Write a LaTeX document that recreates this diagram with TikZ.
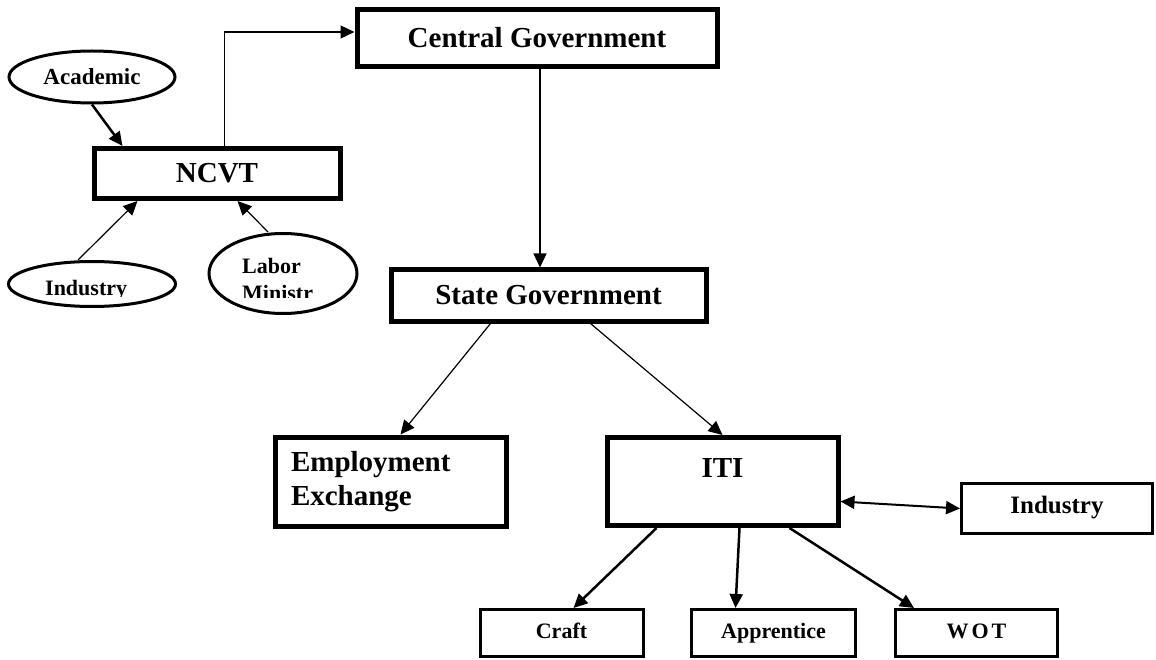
\documentclass[tikz,border=0pt]{standalone}
\usepackage{fontspec}
\setmainfont{Liberation Serif}
\usetikzlibrary{shapes.geometric,arrows.meta,positioning,calc}

\begin{document}
\begin{tikzpicture}[
    x=1pt, y=-1pt,
    >={Triangle[length=14pt,width=13pt]},
    bigbox/.style = {rectangle, draw, line width=5pt, font=\fontsize{29}{34}\selectfont\bfseries},
    smallbox/.style = {rectangle, draw, line width=3pt, minimum height=47pt, text height=15pt, text depth=5pt, font=\fontsize{22}{26}\selectfont\bfseries},
    oval/.style = {ellipse, draw, line width=3pt, inner sep=0pt},
    ovaltext/.style = {anchor=base west, inner sep=0pt, font=\fontsize{22}{26}\selectfont\bfseries},
    lightarrow/.style = {line width=1.2pt, ->},
    heavyarrow/.style = {line width=2.5pt, ->}
]
\useasboundingbox (0,0) rectangle (1156,660);

\node[bigbox, minimum width=360pt, minimum height=57pt] (central) at (537,38) {Central Government};
\node[bigbox, minimum width=246pt, minimum height=50pt] (ncvt) at (217,173.5) {NCVT};
\node[bigbox, minimum width=315pt, minimum height=51pt] (state) at (548.5,295.5) {State Government};
\node[bigbox, minimum width=231pt, minimum height=89pt, text width=199pt, align=left] (employ) at (390.5,481.5) {Employment\\Exchange};
\node[bigbox, minimum width=231pt, inner ysep=0pt, text height=39.5pt, text depth=48.5pt] (iti) at (722.5,481.5) {ITI};
\node[smallbox, minimum width=191pt, minimum height=50pt, font=\fontsize{25}{30}\selectfont\bfseries] (indbox) at (1057,508.5) {Industry};
\node[smallbox, minimum width=163pt] (craft) at (561.5,633) {Craft};
\node[smallbox, minimum width=164pt] (appr) at (773.5,633) {Apprentice};
\node[smallbox, minimum width=162pt] (wot) at (976.5,633) {W\kern3pt O\kern3pt T};

\node[oval, minimum width=166pt, minimum height=52pt, font=\fontsize{23}{27}\selectfont\bfseries] (academic) at (92,77) {Academic};
\node[oval, minimum width=167pt, minimum height=45pt] (industry) at (92,284) {};
\node[oval, minimum width=148pt, minimum height=80pt] (labor) at (283,273.5) {};
\begin{scope}
  \clip (0,200) rectangle (200,296);
  \node[ovaltext] (industrytext) at (45,295) {Industry};
\end{scope}
\begin{scope}
  \clip (200,200) rectangle (400,297.5);
  \node[ovaltext] (labortext) at (242,273) {Labor};
  \node[ovaltext] (ministrtext) at (242,300.5) {Ministr};
\end{scope}

\draw[heavyarrow] (academic.south) -- ([xshift=31pt]ncvt.north west);
\draw[lightarrow] ([xshift=-14pt]industry.north) -- ([xshift=46pt]ncvt.south west);
\draw[lightarrow] ([xshift=-15pt]labor.north) -- ([xshift=146pt]ncvt.south west);
\draw[lightarrow] ([xshift=133pt]ncvt.north west) |- ([yshift=6pt]central.west);
\draw[lightarrow] ([xshift=3pt]central.south) -- ([xshift=3pt]central.south |- state.north);
\draw[lightarrow] ([xshift=102pt]state.south west) -- ([xshift=128pt]employ.north west);
\draw[lightarrow] ([xshift=202pt]state.south west) -- (iti.north);
\draw[line width=2pt, <->] ([yshift=-20pt]iti.east) -- (indbox.west);
\draw[heavyarrow] ([xshift=52pt]iti.south west) -- ([xshift=12pt]craft.north);
\draw[heavyarrow] ([xshift=135pt]iti.south west) -- ([xshift=-38pt]appr.north);
\draw[heavyarrow] ([xshift=185pt]iti.south west) -- ([xshift=20pt]wot.north west);
\end{tikzpicture}
\end{document}
